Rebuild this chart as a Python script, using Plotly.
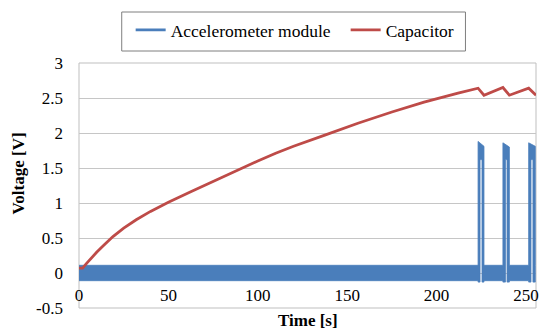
import plotly.graph_objects as go

# ---------------- data ----------------
# Capacitor voltage
cap_time = [0, 2, 4, 7, 10, 14, 19, 25, 32, 40, 50, 62.5, 75, 90, 100, 110, 120,
            137.5, 156, 175, 193, 212, 223.2, 226.5, 237.1, 240.7, 251.5, 255.6]
cap_volt = [0.07, 0.07, 0.13, 0.22, 0.30, 0.40, 0.52, 0.64, 0.76, 0.88, 1.01,
            1.16, 1.31, 1.48, 1.60, 1.71, 1.81, 1.97, 2.14, 2.30, 2.44, 2.57,
            2.64, 2.54, 2.65, 2.54, 2.64, 2.54]

# Accelerometer module: envelope of the (dense, noisy) signal
record_start = 0.0
record_end = 255.2
noise_high = 0.11
noise_low = -0.11
pulse_low = -0.13
pulse_start = [223.2, 237.1, 251.5]
pulse_end = [226.5, 240.7, 255.2]
pulse_top_start = [1.88, 1.86, 1.86]
pulse_top_end = [1.81, 1.80, 1.81]
pulse_inner_start = [224.3, 238.5, 252.8]
pulse_inner_end = [225.4, 239.4, 253.9]
pulse_inner_top = [1.62, 1.62, 1.62]

x_ticks = [0, 50, 100, 150, 200, 250]
x_tick_text = ["0", "50", "100", "150", "200", "250"]
y_ticks = [-0.5, 0, 0.5, 1, 1.5, 2, 2.5, 3]
y_tick_text = ["-0.5", "0", "0.5", "1", "1.5", "2", "2.5", "3"]

series_names = ["Accelerometer module", "Capacitor"]
BLUE = "#4a7ebb"
RED = "#be4b48"
FONT = "'Liberation Serif', 'Times New Roman', 'DejaVu Serif', serif"

# plot area in pixels (for paper-coordinate placement of decorations)
PL, PR, PT, PB = 79, 539, 63, 308
PW, PH = PR - PL, PB - PT


def px_x(v):
    return (v - PL) / PW


def px_y(v):
    return (PB - v) / PH


# ---------------- build the envelope outline ----------------
ex = [record_start]
ey = [noise_high]
for ps, pe, ts, te in zip(pulse_start, pulse_end, pulse_top_start, pulse_top_end):
    ex += [ps, ps, pe, pe]
    ey += [noise_high, ts, te, noise_high]
if record_end > ex[-1]:
    ex.append(record_end)
    ey.append(noise_high)
ex.append(record_end)
ey.append(noise_low)
for i in reversed(range(len(pulse_start))):
    ex += [pulse_end[i], pulse_end[i], pulse_inner_end[i], pulse_inner_end[i],
           pulse_inner_start[i], pulse_inner_start[i], pulse_start[i], pulse_start[i]]
    ey += [noise_low, pulse_low, pulse_low, pulse_inner_top[i],
           pulse_inner_top[i], pulse_low, pulse_low, noise_low]
ex.append(record_start)
ey.append(noise_low)

fig = go.Figure()
fig.add_trace(go.Scatter(
    x=ex, y=ey, mode="lines", fill="toself", fillcolor=BLUE,
    line=dict(color=BLUE, width=0.8), showlegend=False, hoverinfo="skip",
    legendgroup="acc"))
fig.add_trace(go.Scatter(
    x=cap_time, y=cap_volt, mode="lines", name=series_names[1],
    line=dict(color=RED, width=2.8), showlegend=False, legendgroup="cap"))
# legend entries
fig.add_trace(go.Scatter(x=[None], y=[None], mode="lines", name=series_names[0],
                         line=dict(color=BLUE, width=2.8), legendgroup="acc",
                         legendwidth=170))
fig.add_trace(go.Scatter(x=[None], y=[None], mode="lines", name=series_names[1],
                         line=dict(color=RED, width=2.8), legendgroup="cap"))

fig.update_layout(
    width=542, height=332,
    margin=dict(l=PL, r=542 - PR, t=PT, b=332 - PB),
    paper_bgcolor="white", plot_bgcolor="white",
    font=dict(family=FONT, size=17, color="black"),
    showlegend=True,
    legend=dict(orientation="h", x=px_x(131), xanchor="left", y=1.208,
                yanchor="top", borderwidth=0, bgcolor="rgba(0,0,0,0)",
                font=dict(family=FONT, size=17.5, color="black")),
    xaxis=dict(range=[0, 255.6], anchor="free", position=0.5 / 3.5,
               tickvals=x_ticks, ticktext=x_tick_text, ticks="",
               showgrid=False, zeroline=False, showline=False,
               ticklabelstandoff=10),
    yaxis=dict(range=[-0.5, 3], tickvals=y_ticks, ticktext=y_tick_text,
               ticks="", showgrid=True, gridcolor="#c6c6c6", gridwidth=1,
               zeroline=False, showline=False, ticklabelstandoff=15),
    shapes=[
        dict(type="rect", xref="paper", yref="paper", x0=0, x1=1, y0=0, y1=1,
             line=dict(color="#bfbfbf", width=1), layer="below"),
        # legend frame
        dict(type="rect", xref="paper", yref="paper",
             x0=px_x(122), x1=px_x(468), y0=px_y(51), y1=px_y(12),
             line=dict(color="#7f7f7f", width=1), fillcolor="white",
             layer="below"),
    ],
    annotations=[
        dict(text="<b>Voltage [V]</b>", xref="paper", yref="paper",
             x=px_x(18), y=px_y(173), textangle=-90,
             showarrow=False, xanchor="center", yanchor="middle",
             font=dict(family=FONT, size=17, color="black")),
        dict(text="<b>Time [s]</b>", xref="paper", yref="paper",
             x=px_x(310), y=px_y(320), showarrow=False,
             xanchor="center", yanchor="middle",
             font=dict(family=FONT, size=17, color="black")),
    ],
)

fig.write_html("out.html")
